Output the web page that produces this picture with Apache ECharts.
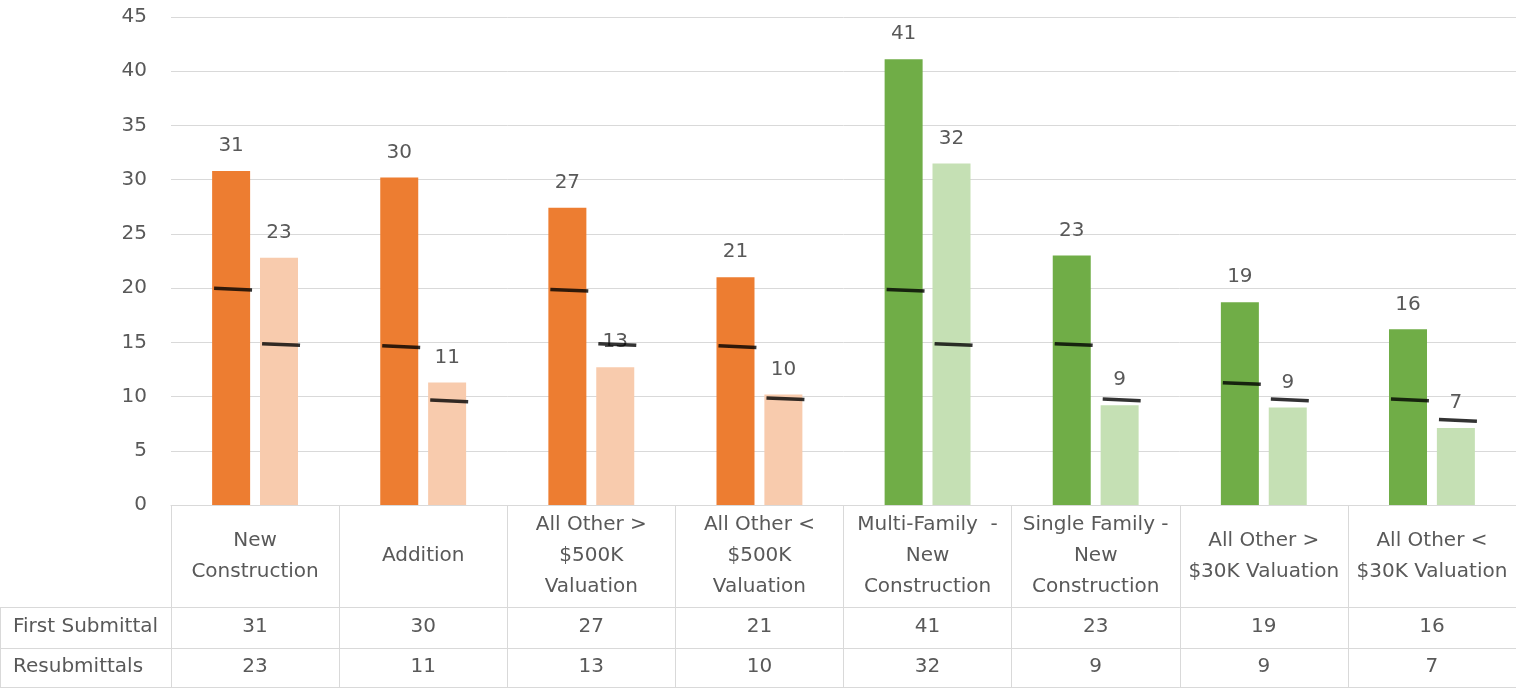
<!DOCTYPE html>
<html><head><meta charset="utf-8">
<script src="https://cdn.jsdelivr.net/npm/echarts@6/dist/echarts.min.js"></script>
<style>html,body{margin:0;padding:0;background:#fff}#c{width:1516px;height:688px}</style>
</head><body><div id="c"></div>
<script>
const categories = ['New\nConstruction','Addition','All Other >\n$500K\nValuation','All Other <\n$500K\nValuation','Multi-Family  -\nNew\nConstruction','Single Family -\nNew\nConstruction','All Other >\n$30K Valuation','All Other <\n$30K Valuation'];
const firstSubmittal = [30.8, 30.2, 27.4, 21.0, 41.1, 23.0, 18.7, 16.2];
const resubmittals = [22.8, 11.3, 12.7, 10.2, 31.5, 9.2, 9.0, 7.1];
const firstTarget = [19.9, 14.6, 19.8, 14.6, 19.8, 14.8, 11.2, 9.7];
const resubTarget = [14.8, 9.6, 14.8, 9.8, 14.8, 9.7, 9.7, 7.8];
const rowNames = ['First Submittal', 'Resubmittals'];
const yTicks = {min: 0, max: 45, interval: 5};

const FONT = 'DejaVu Sans';
const TXT = '#595959';
const GRID = '#D9D9D9';
const FS = 20;
const isGreen = i => i >= 4;
const c1 = i => isGreen(i) ? '#70AD47' : '#ED7D31';
const c2 = i => isGreen(i) ? '#C5E0B4' : '#F8CBAD';

const chart = echarts.init(document.getElementById('c'));
const tableAxis = (offset, vals, margin) => ({
  type: 'category', data: categories, position: 'bottom', offset: offset, gridIndex: 0,
  axisLine: {show: true, lineStyle: {color: GRID, width: 1}},
  axisTick: {show: false}, splitLine: {show: false},
  axisLabel: {show: !!vals, interval: 0, margin: margin, verticalAlign: 'middle',
    fontFamily: FONT, fontSize: FS, color: TXT,
    formatter: (v, i) => vals ? String(Math.round(vals[i])) : ''}
});
chart.setOption({
  animation: false,
  grid: {left: 171, right: -4, top: 17, bottom: 183, containLabel: false},
  xAxis: [
    {type: 'category', data: categories,
     axisLine: {show: true, lineStyle: {color: GRID, width: 1}},
     axisTick: {show: true, interval: 0, length: 183, lineStyle: {color: GRID, width: 1}},
     axisLabel: {interval: 0, margin: 51, verticalAlign: 'middle', lineHeight: 31,
       fontFamily: FONT, fontSize: FS, color: TXT, align: 'center'}},
    tableAxis(102, firstSubmittal, 20),
    tableAxis(143, resubmittals, 19),
    tableAxis(182, null, 10)
  ],
  yAxis: {type: 'value', min: yTicks.min, max: yTicks.max, interval: yTicks.interval,
    axisLine: {show: false}, axisTick: {show: false},
    splitLine: {lineStyle: {color: GRID, width: 1}},
    axisLabel: {margin: 24, fontFamily: FONT, fontSize: FS, color: TXT}},
  series: [
    {type: 'bar', name: rowNames[0], barWidth: 38, barGap: '26%',
     data: firstSubmittal.map((v, i) => ({value: v, itemStyle: {color: c1(i)}})),
     label: {show: true, position: 'top', distance: 15, fontFamily: FONT, fontSize: FS, color: TXT,
       formatter: p => String(Math.round(p.value))}},
    {type: 'bar', name: rowNames[1], barWidth: 38,
     data: resubmittals.map((v, i) => ({value: v, itemStyle: {color: c2(i)}})),
     label: {show: true, position: 'top', distance: 15, fontFamily: FONT, fontSize: FS, color: TXT,
       formatter: p => String(Math.round(p.value))}},
    {type: 'scatter', data: firstTarget, symbol: 'rect', symbolSize: [38, 3.5], symbolOffset: [-22, 0],
     symbolRotate: -2.5, itemStyle: {color: '#000'}, z: 10, silent: true},
    {type: 'scatter', data: resubTarget, symbol: 'rect', symbolSize: [38, 3.5], symbolOffset: [26, 0],
     symbolRotate: -2.5, itemStyle: {color: '#000'}, z: 10, silent: true}
  ],
  graphic: [
    {type: 'line', shape: {x1: 0, y1: 607.5, x2: 171, y2: 607.5}, style: {stroke: GRID, lineWidth: 1}},
    {type: 'line', shape: {x1: 0, y1: 648.5, x2: 171, y2: 648.5}, style: {stroke: GRID, lineWidth: 1}},
    {type: 'line', shape: {x1: 0, y1: 687.5, x2: 171, y2: 687.5}, style: {stroke: GRID, lineWidth: 1}},
    {type: 'line', shape: {x1: 0.5, y1: 607, x2: 0.5, y2: 688}, style: {stroke: GRID, lineWidth: 1}},
    {type: 'text', x: 13, y: 627, style: {text: rowNames[0], font: FS + 'px "' + FONT + '"', fill: TXT, align: 'left', verticalAlign: 'middle'}},
    {type: 'text', x: 13, y: 667, style: {text: rowNames[1], font: FS + 'px "' + FONT + '"', fill: TXT, align: 'left', verticalAlign: 'middle'}}
  ]
});
</script></body></html>
